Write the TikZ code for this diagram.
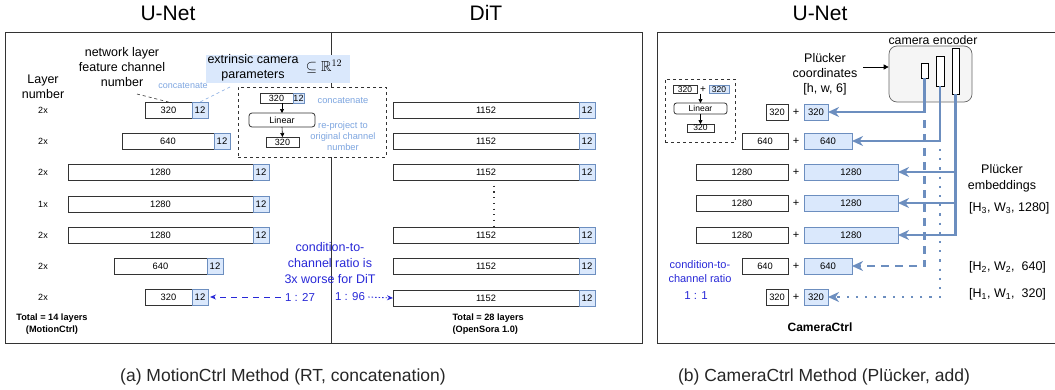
\documentclass[tikz,border=0pt]{standalone}
\usepackage{fontspec}
\setmainfont{Liberation Sans}
\usepackage{amssymb}
\usetikzlibrary{arrows.meta}
\definecolor{lb}{HTML}{DAE8FC}
\definecolor{lbd}{HTML}{6C8EBF}
\definecolor{lbt}{HTML}{7EA6E0}
\definecolor{rb}{RGB}{40,40,215}
\definecolor{gfill}{HTML}{F5F5F5}
\definecolor{gline}{HTML}{666666}
\definecolor{dk}{HTML}{333333}
\newcommand{\fsz}[2]{\fontsize{#1}{#2}\selectfont}
\begin{document}
\begin{tikzpicture}[x=1pt,y=-1pt,
  frame/.style={draw=dk,line width=1pt},
  wbox/.style={draw=dk,fill=white,line width=0.8pt,minimum height=16,inner sep=0pt,outer sep=0pt,font=\fsz{9.3}{11}},
  bbox/.style={draw=lbd,fill=lb,line width=0.6pt,minimum height=16,minimum width=16,inner sep=0pt,outer sep=0pt,font=\fsz{9.5}{11}},
  sbw/.style={wbox,minimum height=8,font=\fsz{8.5}{9}},
  sbb/.style={bbox,minimum height=8,font=\fsz{8.5}{9}},
  lay/.style={font=\fsz{9}{10},inner sep=0pt},
  rbt/.style={text=rb,inner sep=0pt},
  lbtxt/.style={text=lbt,inner sep=0pt},
  tri/.style={-{Triangle[length=4pt,width=4pt]},line width=0.6pt},
  parr/.style={draw=lbd,line width=2.1pt,-{Stealth[length=11pt,width=10pt,inset=3.5pt]}},
  titletxt/.style={font=\fsz{21}{24}},
  captxt/.style={font=\fsz{17.5}{20},text=black!85}
]
\useasboundingbox (0,0) rectangle (1055,389);

% ---------------- titles ----------------
\node[titletxt] (t1) at (168,13) {U-Net};
\node[titletxt] (t2) at (486,13) {DiT};
\node[titletxt] (t3) at (820,13) {U-Net};

% ---------------- panel (a) frame ----------------
\draw[frame] (5,32) rectangle (642,343);
\draw[frame] (331,32) -- (331,343);

% ---------------- U-Net rows ----------------
\node[lay] (l1) at (43,110) {2x};
\node[lay] (l2) at (43,141) {2x};
\node[lay] (l3) at (43,172) {2x};
\node[lay] (l4) at (43,204) {1x};
\node[lay] (l5) at (43,235) {2x};
\node[lay] (l6) at (43,266) {2x};
\node[lay] (l7) at (43,297) {2x};

\node[wbox,minimum width=47,anchor=east] (u1) at (192,110) {320};
\node[bbox,anchor=west] (c1) at (u1.east) {12};
\node[wbox,minimum width=92,anchor=east] (u2) at (214,141) {640};
\node[bbox,anchor=west] (c2) at (u2.east) {12};
\node[wbox,minimum width=185,anchor=east] (u3) at (253,172) {1280};
\node[bbox,anchor=west] (c3) at (u3.east) {12};
\node[wbox,minimum width=185,anchor=east] (u4) at (253,204) {1280};
\node[bbox,anchor=west] (c4) at (u4.east) {12};
\node[wbox,minimum width=185,anchor=east] (u5) at (253,235) {1280};
\node[bbox,anchor=west] (c5) at (u5.east) {12};
\node[wbox,minimum width=93,anchor=east] (u6) at (207,266) {640};
\node[bbox,anchor=west] (c6) at (u6.east) {12};
\node[wbox,minimum width=47,anchor=east] (u7) at (192,297) {320};
\node[bbox,anchor=west] (c7) at (u7.east) {12};

\node[font=\bfseries\fsz{9.2}{12},align=center] (tot1) at (52,324) {Total = 14 layers\\(MotionCtrl)};

% ---------------- labels top-left ----------------
\node[align=center,font=\fsz{12.5}{15}] (netl) at (122,67) {network layer\\feature channel\\number};
\node[align=center,font=\fsz{12.5}{14.5}] (layn) at (43,87) {Layer\\number};
\node[lbtxt,font=\fsz{9}{10}] (conc1) at (183,86) {concatenate};

\node[fill=lb,minimum width=144,minimum height=28,inner sep=0pt] (ext) at (278,69) {};
\node[align=center,font=\fsz{12.5}{15}] (extt) at (253,67.5) {extrinsic camera\\parameters};
\node[font=\fsz{14.5}{16},inner sep=0pt] (extm) at (324,67) {$\subseteq\mathbb{R}^{12}$};

\coordinate (nlf) at (137,94);
\draw[dashed,dk,line width=0.6pt] (nlf) -- (u1.north);
\coordinate (exf) at (230,87);
\draw[dashed,lbt,line width=0.6pt] (exf) -- (c1.north);

% ---------------- dashed detail box ----------------
\node[draw=dk,dashed,fill=white,line width=0.6pt,minimum width=148,minimum height=70,inner sep=0pt] (dbox) at (312,122) {};
\node[wbox,minimum width=33,minimum height=10,font=\fsz{9}{10}] (i1) at (276.5,98) {320};
\node[bbox,minimum width=11,minimum height=10,anchor=west,font=\fsz{9}{10}] (i1b) at (i1.east) {12};
\node[wbox,rounded corners=3pt,minimum width=66,minimum height=14,font=\fsz{9}{10}] (lin1) at (282,120) {Linear};
\node[wbox,minimum width=33,minimum height=10,font=\fsz{9}{10}] (i2) at (282.5,142) {320};
\draw[tri] (lin1.north |- i1.south) -- (lin1.north);
\draw[tri] (lin1.south) -- (i2.north);
\node[lbtxt,font=\fsz{9.3}{11}] (conc2) at (343,101) {concatenate};
\node[lbtxt,align=center,font=\fsz{9.3}{11}] (repj) at (343,136) {re-project to\\original channel\\number};

% ---------------- DiT rows ----------------
\node[wbox,minimum width=186,anchor=east] (d1) at (579,110) {1152};
\node[bbox,anchor=west] (e1) at (d1.east) {12};
\node[wbox,minimum width=186,anchor=east] (d2) at (579,141) {1152};
\node[bbox,anchor=west] (e2) at (d2.east) {12};
\node[wbox,minimum width=186,anchor=east] (d3) at (579,172) {1152};
\node[bbox,anchor=west] (e3) at (d3.east) {12};
\node[wbox,minimum width=186,anchor=east] (d4) at (579,235) {1152};
\node[bbox,anchor=west] (e4) at (d4.east) {12};
\node[wbox,minimum width=186,anchor=east] (d5) at (579,266) {1152};
\node[bbox,anchor=west] (e5) at (d5.east) {12};
\node[wbox,minimum width=186,anchor=east] (d6) at (579,298) {1152};
\node[bbox,anchor=west] (e6) at (d6.east) {12};
\draw[dk,line width=1.2pt,dash pattern=on 1.2pt off 4.5pt] ([xshift=8]d3.south) -- ([xshift=8]d4.north);

\node[font=\bfseries\fsz{9.2}{12},align=left,anchor=west] (tot2) at (449,324) {Total = 28 layers\\(OpenSora 1.0)};

% ---------------- ratio annotations ----------------
\node[rbt,align=center,font=\fsz{12.5}{16}] (cond) at (330,263) {condition-to-\\channel ratio is\\3x worse for DiT};
\node[rbt,font=\fsz{11.5}{13}] (r27) at (300,297) {1 : 27};
\node[rbt,font=\fsz{11.5}{13}] (r96) at (350,297) {1 : 96};
\draw[rb,line width=0.9pt,dash pattern=on 6pt off 5pt,-{Stealth[length=6pt,width=5pt]}] ([xshift=-4]r27.west) -- ([xshift=2]c7.east);
\draw[rb,line width=0.9pt,dash pattern=on 1.5pt off 2pt,-{Stealth[length=6pt,width=5pt]}] ([xshift=3]r96.east) -- (d6.west);

% ---------------- panel (b) ----------------
\draw[frame] (1056,32) -- (657,32) -- (657,343) -- (1056,343);

\node[draw=gline,fill=gfill,rounded corners=8pt,minimum width=83,minimum height=56,inner sep=0pt,line width=0.7pt] (enc) at (930.5,74) {};
\node[font=\fsz{12.3}{14},inner sep=0pt] (encl) at (933,40) {camera encoder};
\node[draw=black,fill=white,line width=0.8pt,minimum width=7,minimum height=15,inner sep=0pt,outer sep=0pt] (p1) at (924.5,70.5) {};
\node[draw=black,fill=white,line width=0.8pt,minimum width=8,minimum height=30,inner sep=0pt,outer sep=0pt] (p2) at (940,71) {};
\node[draw=black,fill=white,line width=0.8pt,minimum width=7,minimum height=46,inner sep=0pt,outer sep=0pt] (p3) at (955.5,71) {};

\node[align=center,font=\fsz{12.5}{15}] (plc) at (825,74) {Plücker\\coordinates\\{[h, w, 6]}};
\coordinate (pa) at (863,67);
\draw[-{Triangle[length=5pt,width=5pt]},line width=0.7pt] (pa) -- (pa -| enc.west);

% small dashed legend box
\node[draw=dk,dashed,line width=0.6pt,minimum width=70,minimum height=63,inner sep=0pt] (sbox) at (700,110.5) {};
\node[sbw,minimum width=24] (s1) at (685,89.5) {320};
\node[font=\fsz{10}{11},inner sep=0pt] (splus) at (703,89.5) {+};
\node[sbb,minimum width=20] (s1b) at (719,89.5) {320};
\node[wbox,rounded corners=2.5pt,minimum width=53,minimum height=11,font=\fsz{8.5}{9}] (slin) at (700.5,108.5) {Linear};
\node[sbw,minimum width=27] (s2) at (700.5,128) {320};
\draw[tri] (slin.north |- s1.south) -- (slin.north);
\draw[tri] (slin.south) -- (s2.north);

% rows
\node[wbox,minimum width=22,anchor=east] (w1) at (788,112) {320};
\node[font=\fsz{11}{12},inner sep=0pt] (q1) at (796,112) {+};
\node[bbox,minimum width=24,anchor=west] (b1) at (804,112) {320};
\node[wbox,minimum width=46,anchor=east] (w2) at (788,141) {640};
\node[font=\fsz{11}{12},inner sep=0pt] (q2) at (796,141) {+};
\node[bbox,minimum width=48,anchor=west] (b2) at (804,141) {640};
\node[wbox,minimum width=92,anchor=east] (w3) at (788,172) {1280};
\node[font=\fsz{11}{12},inner sep=0pt] (q3) at (796,172) {+};
\node[bbox,minimum width=94,anchor=west] (b3) at (804,172) {1280};
\node[wbox,minimum width=92,anchor=east] (w4) at (788,203) {1280};
\node[font=\fsz{11}{12},inner sep=0pt] (q4) at (796,203) {+};
\node[bbox,minimum width=94,anchor=west] (b4) at (804,203) {1280};
\node[wbox,minimum width=92,anchor=east] (w5) at (788,235) {1280};
\node[font=\fsz{11}{12},inner sep=0pt] (q5) at (796,235) {+};
\node[bbox,minimum width=94,anchor=west] (b5) at (804,235) {1280};
\node[wbox,minimum width=46,anchor=east] (w6) at (788,266) {640};
\node[font=\fsz{11}{12},inner sep=0pt] (q6) at (796,266) {+};
\node[bbox,minimum width=48,anchor=west] (b6) at (804,266) {640};
\node[wbox,minimum width=22,anchor=east] (w7) at (788,297) {320};
\node[font=\fsz{11}{12},inner sep=0pt] (q7) at (796,297) {+};
\node[bbox,minimum width=24,anchor=west] (b7) at (804,297) {320};

% encoder arrows
\draw[parr] (p1.south) |- (b1.east);
\draw[parr] (p2.south) |- (b2.east);
\draw[parr] (p3.south) |- (b5.east);
\draw[parr] (p3.south |- b3.east) -- (b3.east);
\draw[parr] (p3.south |- b4.east) -- (b4.east);
\draw[parr,dash pattern=on 8pt off 6pt] (p1.south |- b1.south) |- (b6.east);
\draw[parr,dash pattern=on 2.2pt off 7pt] (p2.south |- b2.south) |- (b7.east);

% labels right
\node[align=center,font=\fsz{12.5}{16}] (pemb) at (1002,178) {Plücker\\embeddings};
\node[anchor=west,font=\fsz{12.5}{14},inner sep=0pt] (h3) at (969,208) {[H\textsubscript{3}, W\textsubscript{3}, 1280]};
\node[anchor=west,font=\fsz{12.5}{14},inner sep=0pt] (h2) at (969,267) {[H\textsubscript{2}, W\textsubscript{2},\ \ 640]};
\node[anchor=west,font=\fsz{12.5}{14},inner sep=0pt] (h1) at (969,294) {[H\textsubscript{1}, W\textsubscript{1},\ \ 320]};

\node[rbt,align=center,font=\fsz{11}{13.5}] (cond2) at (700,271.5) {condition-to-\\channel ratio};
\node[rbt,font=\fsz{11.5}{13}] (r11) at (696,296) {1 : 1};
\node[font=\bfseries\fsz{12}{14},inner sep=0pt] (cc) at (820,327) {CameraCtrl};

% ---------------- captions ----------------
\node[captxt] (capa) at (283,377) {(a) MotionCtrl Method (RT, concatenation)};
\node[captxt] (capb) at (824,377) {(b) CameraCtrl Method (Plücker, add)};
\end{tikzpicture}
\end{document}
